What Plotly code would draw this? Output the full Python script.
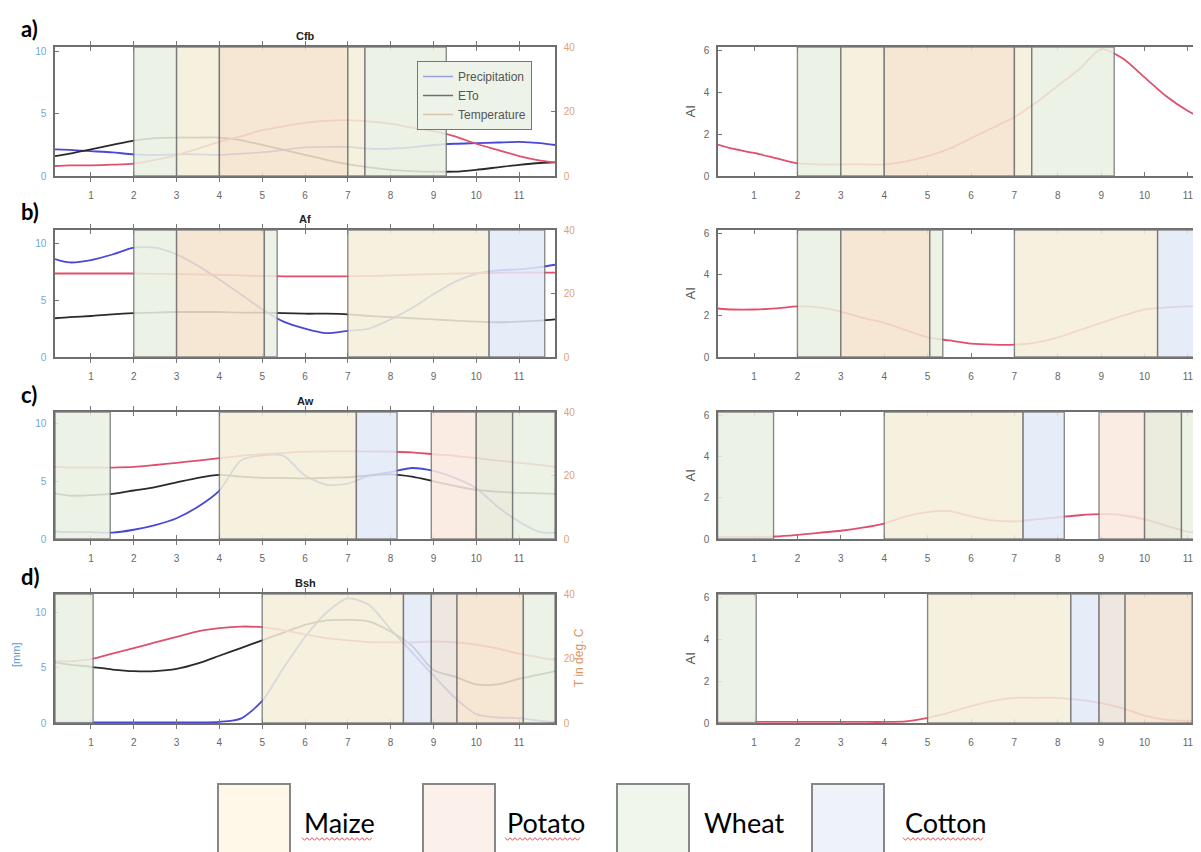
import plotly.graph_objects as go

# ---------------- data ----------------
months = [0.16, 0.5, 1, 1.5, 2, 2.5, 3, 3.5, 4, 4.5, 5, 5.5, 6, 6.5, 7, 7.5, 8, 8.5, 9, 9.5, 10, 10.5, 11, 11.5, 11.84]
month_ticks = [1, 2, 3, 4, 5, 6, 7, 8, 9, 10, 11]

climates = ["Cfb", "Af", "Aw", "Bsh"]
panel_letters = ["a)", "b)", "c)", "d)"]
legend_labels = ["Precipitation", "ETo", "Temperature"]

# Cfb
cfb_precip = [2.15, 2.1, 2.0, 1.9, 1.75, 1.7, 1.75, 1.75, 1.7, 1.8, 1.9, 2.1, 2.3, 2.35, 2.35, 2.2, 2.2, 2.3, 2.5, 2.6, 2.65, 2.7, 2.75, 2.65, 2.5]
cfb_eto = [1.6, 1.8, 2.15, 2.5, 2.85, 3.05, 3.1, 3.1, 3.1, 2.9, 2.5, 2.1, 1.7, 1.3, 0.95, 0.7, 0.5, 0.4, 0.35, 0.35, 0.5, 0.7, 0.9, 1.05, 1.1]
cfb_temp = [3.1, 3.3, 3.3, 3.5, 3.85, 5.0, 6.5, 8.5, 10.6, 12.3, 14.2, 15.4, 16.5, 17.1, 17.3, 16.9, 16.2, 15.0, 13.9, 12.3, 10.0, 8.1, 6.2, 4.8, 4.2]
cfb_ai = [1.5, 1.3, 1.1, 0.85, 0.6, 0.55, 0.55, 0.55, 0.55, 0.7, 0.95, 1.3, 1.8, 2.3, 2.8, 3.5, 4.3, 5.1, 6.05, 5.6, 4.7, 3.8, 3.1, 2.6, 2.4]

# Af
af_precip = [8.6, 8.3, 8.5, 9.0, 9.6, 9.6, 9.0, 8.0, 6.8, 5.5, 4.2, 3.1, 2.5, 2.1, 2.3, 2.5, 3.3, 4.3, 5.5, 6.6, 7.3, 7.6, 7.7, 7.9, 8.1]
af_eto = [3.4, 3.5, 3.6, 3.75, 3.85, 3.9, 3.95, 3.95, 3.95, 3.9, 3.9, 3.85, 3.8, 3.8, 3.75, 3.6, 3.5, 3.4, 3.3, 3.2, 3.1, 3.05, 3.1, 3.2, 3.3]
af_temp = [26.3, 26.3, 26.3, 26.3, 26.3, 26.2, 26.1, 26.0, 25.9, 25.7, 25.5, 25.4, 25.4, 25.4, 25.4, 25.5, 25.7, 25.9, 26.1, 26.3, 26.4, 26.5, 26.6, 26.6, 26.6]
af_ai = [2.35, 2.3, 2.3, 2.35, 2.45, 2.4, 2.2, 1.9, 1.65, 1.3, 0.95, 0.8, 0.65, 0.6, 0.6, 0.7, 0.95, 1.3, 1.65, 2.0, 2.3, 2.4, 2.45, 2.5, 2.5]

# Aw
aw_precip = [0.65, 0.6, 0.6, 0.55, 0.8, 1.2, 1.8, 2.8, 4.2, 6.8, 7.25, 7.2, 5.5, 4.7, 4.8, 5.5, 5.8, 6.15, 5.9, 5.3, 4.4, 2.8, 1.5, 0.6, 0.55]
aw_eto = [3.95, 3.75, 3.8, 3.9, 4.2, 4.5, 4.9, 5.3, 5.55, 5.4, 5.3, 5.3, 5.25, 5.3, 5.35, 5.5, 5.6, 5.4, 5.0, 4.6, 4.25, 4.1, 4.0, 3.95, 3.9]
aw_temp = [22.7, 22.5, 22.5, 22.5, 22.7, 23.3, 24.0, 24.7, 25.5, 26.2, 26.7, 27.1, 27.5, 27.6, 27.6, 27.6, 27.5, 27.3, 26.7, 26.2, 25.5, 24.7, 24.0, 23.3, 22.7]
aw_ai = [0.1, 0.1, 0.1, 0.12, 0.2, 0.3, 0.4, 0.55, 0.75, 1.1, 1.3, 1.35, 1.1, 0.9, 0.85, 0.95, 1.05, 1.15, 1.2, 1.15, 0.95, 0.65, 0.35, 0.3, 0.3]

# Bsh
bsh_precip = [0.05, 0.05, 0.05, 0.05, 0.05, 0.05, 0.05, 0.05, 0.1, 0.4, 2.0, 5.0, 7.8, 10.0, 11.3, 10.7, 8.5, 6.4, 4.3, 2.3, 0.8, 0.5, 0.45, 0.2, 0.1]
bsh_eto = [5.5, 5.3, 5.1, 4.85, 4.7, 4.7, 4.9, 5.4, 6.1, 6.8, 7.5, 8.2, 8.9, 9.3, 9.35, 9.2, 8.3, 7.0, 4.8, 4.2, 3.5, 3.5, 4.0, 4.4, 4.7]
bsh_temp = [19.1, 19.1, 19.8, 21.5, 23.2, 25.0, 26.7, 28.4, 29.4, 29.9, 29.7, 28.7, 27.5, 26.3, 25.6, 25.1, 25.0, 25.0, 25.3, 25.0, 24.3, 23.1, 21.5, 20.3, 19.5]
bsh_ai = [0.05, 0.05, 0.05, 0.05, 0.05, 0.05, 0.05, 0.05, 0.05, 0.08, 0.25, 0.5, 0.8, 1.05, 1.2, 1.2, 1.2, 1.1, 0.95, 0.7, 0.35, 0.15, 0.1, 0.1, 0.1]

# growing season segments
cfb_seg_start = [2.0, 3.0, 4.0, 7.0, 7.4]
cfb_seg_end = [3.0, 4.0, 7.0, 7.4, 9.3]
cfb_seg_crop = ["Wheat", "Maize", "Maize+Potato", "Maize", "Wheat"]

af_seg_start = [2.0, 3.0, 5.05, 7.0, 10.3]
af_seg_end = [3.0, 5.05, 5.35, 10.3, 11.6]
af_seg_crop = ["Wheat", "Maize+Potato", "Wheat", "Maize", "Cotton"]

aw_seg_start = [0.16, 4.0, 7.2, 8.95, 10.0, 10.85]
aw_seg_end = [1.45, 7.2, 8.15, 10.0, 10.85, 11.84]
aw_seg_crop = ["Wheat", "Maize", "Cotton", "Potato", "Wheat+Potato", "Wheat"]

bsh_seg_start = [0.16, 5.0, 8.3, 8.95, 9.55, 11.1]
bsh_seg_end = [1.05, 8.3, 8.95, 9.55, 11.1, 11.84]
bsh_seg_crop = ["Wheat", "Maize", "Cotton", "Cotton+Potato", "Maize+Potato", "Wheat"]

crop_legend = ["Maize", "Potato", "Wheat", "Cotton"]

# ---------------- styles ----------------
# the page adds an 8px body margin: the figure is drawn 8px in from the top-left
OFF = 8
W, H = 1201 - OFF, 852 - OFF
shade_colors = {
    "Maize": "#F5EFD9",
    "Potato": "#FAE8DF",
    "Wheat": "#EAF2E2",
    "Cotton": "#E2E9F7",
    "Maize+Potato": "#F5E4CD",
    "Wheat+Potato": "#E9EAD9",
    "Cotton+Potato": "#ECE4DC",
}
legend_box_colors = {"Maize": "#FFF8E8", "Potato": "#FCF1EA", "Wheat": "#F0F6EC", "Cotton": "#EEF3FA"}
C_PRE, C_ETO, C_TMP, C_AI = "#4848d6", "#2a2a2a", "#e0506c", "#e0506c"
FRAME = "#6e6e6e"

panels = [
    (cfb_precip, cfb_eto, cfb_temp, cfb_ai, cfb_seg_start, cfb_seg_end, cfb_seg_crop, 10.4),
    (af_precip, af_eto, af_temp, af_ai, af_seg_start, af_seg_end, af_seg_crop, 11.15),
    (aw_precip, aw_eto, aw_temp, aw_ai, aw_seg_start, aw_seg_end, aw_seg_crop, 11.0),
    (bsh_precip, bsh_eto, bsh_temp, bsh_ai, bsh_seg_start, bsh_seg_end, bsh_seg_crop, 11.7),
]
row_tops = [47, 230, 412, 594]
row_bots = [176, 357, 539, 723]


def px(p):
    return (p - OFF) / W


def py(p):
    return 1 - (p - OFF) / H


left_dom = [px(55), px(555)]
right_dom = [px(718), 1.0]


def nm(i):
    return "" if i == 1 else str(i)


def note(text, x, y, font, xanchor="center", angle=0):
    return dict(text=text, x=px(x), y=py(y), xref="paper", yref="paper", xanchor=xanchor, yanchor="middle",
                textangle=angle, showarrow=False, font=font)


fig = go.Figure()
layout = {}
shapes = []
annotations = []

tickfont = dict(family="Liberation Sans", size=10, color="#666")

for r, (pre, eto, tmp, ai, s0, s1, crops, mmtop) in enumerate(panels):
    xl, xr = 2 * r + 1, 2 * r + 2
    ymm, yt, yai = 3 * r + 1, 3 * r + 2, 3 * r + 3
    dom = [py(row_bots[r]), py(row_tops[r])]
    ln = dict(width=1.8, shape="spline", smoothing=0.7)
    fig.add_trace(go.Scatter(x=months, y=pre, mode="lines", xaxis="x" + nm(xl), yaxis="y" + nm(ymm),
                             line=dict(color=C_PRE, **ln), showlegend=False))
    fig.add_trace(go.Scatter(x=months, y=eto, mode="lines", xaxis="x" + nm(xl), yaxis="y" + nm(ymm),
                             line=dict(color=C_ETO, **ln), showlegend=False))
    fig.add_trace(go.Scatter(x=months, y=tmp, mode="lines", xaxis="x" + nm(xl), yaxis="y" + nm(yt),
                             line=dict(color=C_TMP, **ln), showlegend=False))
    fig.add_trace(go.Scatter(x=months, y=ai, mode="lines", xaxis="x" + nm(xr), yaxis="y" + nm(yai),
                             line=dict(color=C_AI, **ln), showlegend=False))

    xcommon = dict(tickvals=month_ticks, ticks="inside", ticklen=4, tickcolor="#777", showline=True,
                   linecolor=FRAME, linewidth=1.5, mirror="allticks", showgrid=False, zeroline=False,
                   tickfont=tickfont, ticklabelstandoff=9, automargin=False)
    layout["xaxis" + nm(xl)] = dict(domain=left_dom, range=[0.16, 11.84], anchor="y" + nm(ymm), **xcommon)
    layout["xaxis" + nm(xr)] = dict(domain=right_dom, range=[0.17, 11.3], anchor="y" + nm(yai), **xcommon)
    ycommon = dict(ticks="inside", ticklen=4, tickcolor="#777", showline=True, linecolor=FRAME,
                   linewidth=1.5, showgrid=False, zeroline=False, ticklabelstandoff=5, automargin=False)
    layout["yaxis" + nm(ymm)] = dict(domain=dom, range=[0, mmtop], tickvals=[0, 5, 10], anchor="x" + nm(xl),
                                    tickfont=dict(family="Liberation Sans", size=10, color="#74a6d4"), **ycommon)
    layout["yaxis" + nm(yt)] = dict(overlaying="y" + nm(ymm), side="right", range=[0, 40], tickvals=[0, 20, 40],
                                   anchor="x" + nm(xl),
                                   tickfont=dict(family="Liberation Sans", size=10, color="#e0a274"), **ycommon)
    layout["yaxis" + nm(yai)] = dict(domain=dom, range=[0, 6.15], tickvals=[0, 2, 4, 6], anchor="x" + nm(xr),
                                    tickfont=tickfont, **ycommon)

    for a, b, c in zip(s0, s1, crops):
        for xa, ya in ((xl, ymm), (xr, yai)):
            shapes.append(dict(type="rect", xref="x" + nm(xa), yref="y" + nm(ya) + " domain",
                               x0=a, x1=b, y0=0, y1=1, fillcolor=shade_colors[c], opacity=0.86,
                               line=dict(color="#787878", width=1.4), layer="above"))

    # titles and labels
    annotations.append(note("<b>" + climates[r] + "</b>", 305, row_tops[r] - 11,
                            dict(family="Liberation Sans", size=11, color="#222")))
    annotations.append(note("<b>" + panel_letters[r] + "</b>", 19, row_tops[r] - 18,
                            dict(family="Lato", size=22, color="#000"), xanchor="left"))
    annotations.append(note("AI", 690, (row_tops[r] + row_bots[r]) / 2,
                            dict(family="Liberation Sans", size=13, color="#555"), angle=-90))

annotations.append(note("[mm]", 16, 655, dict(family="Liberation Sans", size=11, color="#5b9bd5"), angle=-90))
annotations.append(note("T in deg. C", 579, 658, dict(family="Liberation Sans", size=12, color="#d9955f"),
                        angle=-90))

# legend-only traces (faded, as they sit below the shading in the original)
legend_colors = ["#9c9ce0", "#6e6e6e", "#d8c4a4"]
for lab, col in zip(legend_labels, legend_colors):
    fig.add_trace(go.Scatter(x=[None], y=[None], mode="lines", name=lab, line=dict(color=col, width=1.5)))

# bottom crop legend
box_left = [218, 423, 617, 812]
text_left = [302, 505, 702, 903]
squiggle_words = ["Maize", "Potato", "Cotton"]
text_width = {"Maize": 71, "Potato": 77, "Wheat": 79, "Cotton": 82}
for bx, tx, crop in zip(box_left, text_left, crop_legend):
    shapes.append(dict(type="rect", xref="paper", yref="paper", x0=px(bx), x1=px(bx + 72),
                       y0=py(784), y1=py(880), fillcolor=legend_box_colors[crop],
                       line=dict(color="#888", width=2), layer="above"))
    annotations.append(note(crop, tx, 822, dict(family="Lato", size=27, color="#000"), xanchor="left"))
    if crop in squiggle_words:
        pts = []
        xx = tx
        k = 0
        while xx <= tx + text_width[crop]:
            yy = 839 + (1.3 if k % 2 else -1.3)
            pts.append(("M" if k == 0 else "L") + f"{px(xx):.5f},{py(yy):.5f}")
            xx += 2.5
            k += 1
        shapes.append(dict(type="path", xref="paper", yref="paper", path=" ".join(pts),
                           line=dict(color="#e85050", width=1), layer="above"))

fig.update_layout(
    width=W, height=H, margin=dict(l=0, r=0, t=0, b=0, autoexpand=False),
    paper_bgcolor="white", plot_bgcolor="white",
    shapes=shapes, annotations=annotations,
    showlegend=True,
    legend=dict(x=px(417), y=py(61), xanchor="left", yanchor="top", bgcolor="#EEF3E9",
                bordercolor="#777", borderwidth=1, font=dict(family="Liberation Sans", size=12, color="#555"),
                tracegroupgap=0, itemwidth=30),
    **layout,
)

fig.write_html("out.html")
